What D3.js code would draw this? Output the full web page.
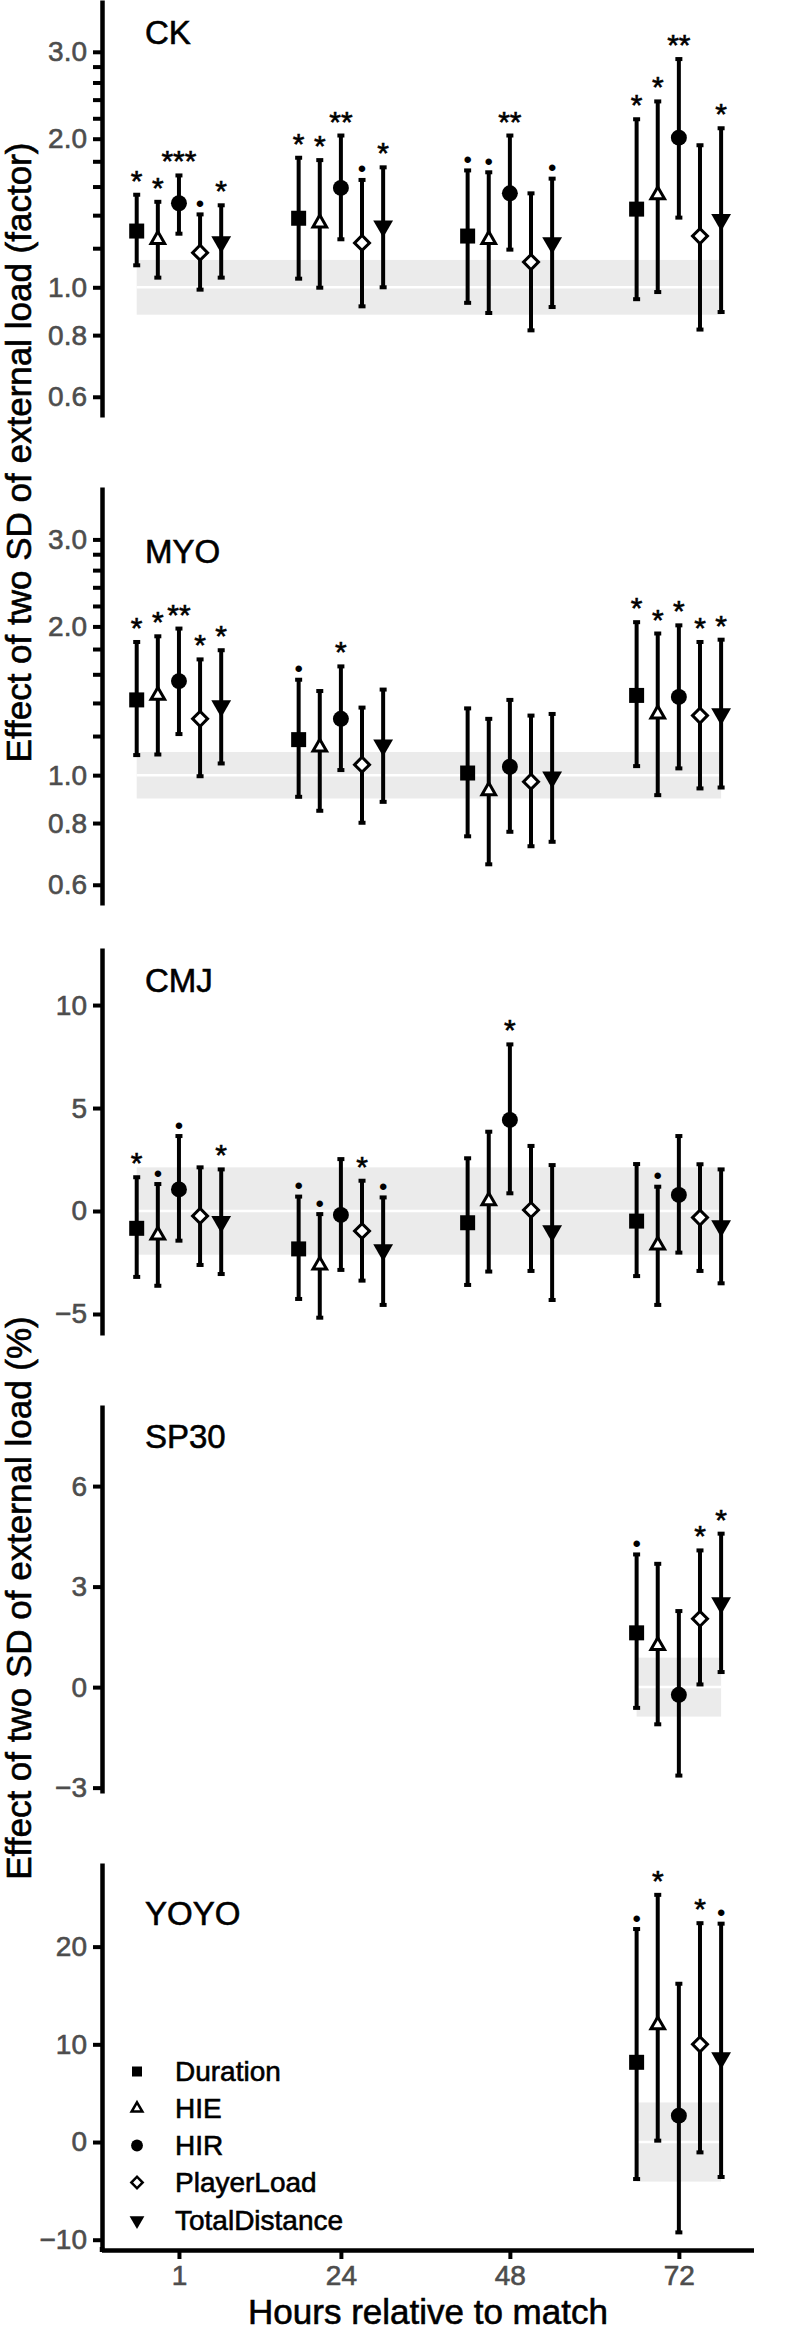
<!DOCTYPE html>
<html>
<head>
<meta charset="utf-8">
<script src="https://cdn.jsdelivr.net/npm/d3@7"></script>
<style>
  body { margin: 0; background: #ffffff; }
  text { font-family: "Liberation Sans", Arial, Helvetica, sans-serif; }
</style>
</head>
<body>
<svg id="chart" width="806" height="2336"></svg>
<script>
// ---------------- DATA ----------------
const hours = [1, 24, 48, 72];
const series = ["Duration", "HIE", "HIR", "PlayerLoad", "TotalDistance"];
const panelNames = ["CK", "MYO", "CMJ", "SP30", "YOYO"];

// Tick values / labels
const factorTicks = [0.6, 0.8, 1.0, 1.2, 1.4, 1.6, 1.8, 2.0, 2.2, 2.4, 2.6, 2.8, 3.0];
const factorLabels = [0.6, 0.8, 1.0, 2.0, 3.0];
const cmjTicks = [-5, 0, 5, 10];
const sp30Ticks = [-3, 0, 3, 6];
const yoyoTicks = [-10, 0, 10, 20];

// CK (factor) : rows = series, columns = hours
const ckEst = [[1.30, 1.38, 1.27, 1.44], [1.25, 1.35, 1.25, 1.54], [1.48, 1.59, 1.55, 2.01], [1.175, 1.23, 1.125, 1.27], [1.235, 1.33, 1.23, 1.37]];
const ckUp  = [[1.54, 1.83, 1.725, 2.19], [1.49, 1.81, 1.71, 2.38], [1.685, 2.03, 2.03, 2.90], [1.405, 1.65, 1.55, 1.94], [1.466, 1.75, 1.66, 2.10]];
const ckLo  = [[1.108, 1.041, 0.930, 0.946], [1.046, 0.998, 0.887, 0.978], [1.284, 1.251, 1.192, 1.384], [0.989, 0.915, 0.818, 0.821], [1.046, 1.0, 0.912, 0.891]];
const ckSig = [["*", "*", "•", "*"], ["*", "*", "•", "*"], ["***", "**", "**", "**"], ["•", "•", "", ""], ["*", "*", "•", "*"]];
const ckBand = [0.880, 1.136];

// MYO (factor)
const myoEst = [[1.42, 1.18, 1.01, 1.45], [1.45, 1.14, 0.93, 1.33], [1.55, 1.30, 1.04, 1.44], [1.30, 1.05, 0.97, 1.32], [1.38, 1.15, 0.99, 1.33]];
const myoUp  = [[1.86, 1.56, 1.365, 2.04], [1.91, 1.48, 1.30, 1.935], [1.98, 1.66, 1.42, 2.01], [1.715, 1.37, 1.32, 1.86], [1.79, 1.49, 1.33, 1.88]];
const myoLo  = [[1.098, 0.904, 0.752, 1.043], [1.101, 0.847, 0.66, 0.911], [1.211, 1.024, 0.768, 1.032], [0.995, 0.801, 0.718, 0.94], [1.056, 0.883, 0.733, 0.944]];
const myoSig = [["*", "•", "", "*"], ["*", "", "", "*"], ["**", "*", "", "*"], ["*", "", "", "*"], ["*", "", "", "*"]];
const myoBand = [0.897, 1.114];

// CMJ (%)
const cmjEst = [[-0.84, -1.84, -0.57, -0.49], [-1.17, -2.62, 0.49, -1.65], [1.05, -0.19, 4.42, 0.78], [-0.24, -0.97, 0.05, -0.32], [-0.52, -1.89, -0.97, -0.73]];
const cmjUp  = [[1.64, 0.70, 2.56, 2.28], [1.31, -0.15, 3.85, 1.18], [3.64, 2.52, 8.09, 3.64], [2.12, 1.47, 3.16, 2.27], [2.02, 0.66, 2.23, 2.02]];
const cmjLo  = [[-3.2, -4.27, -3.59, -3.16], [-3.63, -5.18, -2.94, -4.56], [-1.44, -2.86, 0.86, -2.02], [-2.62, -3.38, -2.91, -2.91], [-3.06, -4.56, -4.32, -3.51]];
const cmjSig = [["*", "•", "", ""], ["•", "•", "", "•"], ["•", "", "*", ""], ["", "*", "", ""], ["*", "•", "", ""]];
const cmjBand = [-2.12, 2.12];

// SP30 (%) – only 72 h
const sp30Est = [[null, null, null, 1.62], [null, null, null, 1.24], [null, null, null, -0.23], [null, null, null, 2.04], [null, null, null, 2.51]];
const sp30Up  = [[null, null, null, 3.96], [null, null, null, 3.68], [null, null, null, 2.27], [null, null, null, 4.08], [null, null, null, 4.58]];
const sp30Lo  = [[null, null, null, -0.62], [null, null, null, -1.11], [null, null, null, -2.64], [null, null, null, 0.08], [null, null, null, 0.45]];
const sp30Sig = [["", "", "", "•"], ["", "", "", ""], ["", "", "", ""], ["", "", "", "*"], ["", "", "", "*"]];
const sp30Band = [-0.88, 0.88];

// YOYO (%) – only 72 h
const yoyoEst = [[null, null, null, 8.16], [null, null, null, 12.0], [null, null, null, 2.7], [null, null, null, 10.0], [null, null, null, 8.6]];
const yoyoUp  = [[null, null, null, 21.8], [null, null, null, 25.3], [null, null, null, 16.2], [null, null, null, 22.4], [null, null, null, 22.35]];
const yoyoLo  = [[null, null, null, -3.79], [null, null, null, 0.14], [null, null, null, -9.25], [null, null, null, -1.06], [null, null, null, -3.58]];
const yoyoSig = [["", "", "", "•"], ["", "", "", "*"], ["", "", "", ""], ["", "", "", "*"], ["", "", "", "•"]];
const yoyoBand = [-4.05, 4.05];

// dodge offsets (hours) for the five series
const dodge = [-6, -3, 0, 3, 6];

// y-axis domains (value at bottom, value at top of each panel)
const yDomains = [[0.546, 3.82], [0.546, 3.83], [-6.02, 12.77], [-3.16, 8.42], [-10.95, 28.56]];

// ---------------- LAYOUT / STYLE ----------------
const layout = {
  top:    [0, 487, 948, 1405, 1863],
  bottom: [417, 905, 1335, 1793, 2249],
  label:  [44, 563, 992, 1448, 1925]
};
const axisX = 102;
const xAxisY = 2250;

const panels = [
  { name: panelNames[0], log: true,  ticks: factorTicks, labels: factorLabels, est: ckEst, up: ckUp, lo: ckLo, sig: ckSig, band: ckBand, ref: 1 },
  { name: panelNames[1], log: true,  ticks: factorTicks, labels: factorLabels, est: myoEst, up: myoUp, lo: myoLo, sig: myoSig, band: myoBand, ref: 1 },
  { name: panelNames[2], log: false, ticks: cmjTicks, labels: cmjTicks, est: cmjEst, up: cmjUp, lo: cmjLo, sig: cmjSig, band: cmjBand, ref: 0 },
  { name: panelNames[3], log: false, ticks: sp30Ticks, labels: sp30Ticks, est: sp30Est, up: sp30Up, lo: sp30Lo, sig: sp30Sig, band: sp30Band, ref: 0 },
  { name: panelNames[4], log: false, ticks: yoyoTicks, labels: yoyoTicks, est: yoyoEst, up: yoyoUp, lo: yoyoLo, sig: yoyoSig, band: yoyoBand, ref: 0 }
];

const svg = d3.select("#chart");
const x = d3.scaleLinear().domain([-10, 82.6]).range([101.5, 753.5]);

// marker definitions
const markerDefs = [
  { type: d3.symbolSquare,   size: 225, fill: "#000", stroke: "none", sw: 0, rot: 0 },
  { type: d3.symbolTriangle, size: 80,  fill: "#fff", stroke: "#000", sw: 3, rot: 0 },
  { type: d3.symbolCircle,   size: 200, fill: "#000", stroke: "none", sw: 0, rot: 0 },
  { type: d3.symbolSquare,   size: 112, fill: "#fff", stroke: "#000", sw: 3, rot: 45 },
  { type: d3.symbolTriangle, size: 170, fill: "#000", stroke: "none", sw: 0, rot: 180 }
];
const legendDefs = [
  { type: d3.symbolSquare,   size: 100, fill: "#000", stroke: "none", sw: 0, rot: 0 },
  { type: d3.symbolTriangle, size: 50,  fill: "#fff", stroke: "#000", sw: 2.5, rot: 0 },
  { type: d3.symbolCircle,   size: 110, fill: "#000", stroke: "none", sw: 0, rot: 0 },
  { type: d3.symbolSquare,   size: 64,  fill: "#fff", stroke: "#000", sw: 2.5, rot: 45 },
  { type: d3.symbolTriangle, size: 95,  fill: "#000", stroke: "none", sw: 0, rot: 180 }
];

const fmtLog = d3.format(".1f");
const fmtLin = d => (d < 0 ? "\u2212" + Math.abs(d) : String(d));

// slight stroke to mimic the heavier text rendering of the reference
function heavy(sel, color) {
  return sel.attr("stroke", color).attr("stroke-width", 0.6).attr("paint-order", "stroke");
}

panels.forEach((p, i) => {
  const y = (p.log ? d3.scaleLog() : d3.scaleLinear())
    .domain(yDomains[i])
    .range([layout.bottom[i], layout.top[i]]);
  const g = svg.append("g").attr("class", "panel-" + p.name);

  // reference band: spans dodged positions of hours with data
  const present = hours.filter((h, j) => p.est.some(s => s[j] != null));
  const bx0 = x(d3.min(present) + dodge[0]);
  const bx1 = x(d3.max(present) + dodge[dodge.length - 1]);
  g.append("rect")
    .attr("x", bx0).attr("width", bx1 - bx0)
    .attr("y", y(p.band[1])).attr("height", y(p.band[0]) - y(p.band[1]))
    .attr("fill", "#ebebeb");
  g.append("line")
    .attr("x1", bx0).attr("x2", bx1)
    .attr("y1", y(p.ref)).attr("y2", y(p.ref))
    .attr("stroke", "#fff").attr("stroke-width", 2.5);

  // y axis
  const labelSet = new Set(p.labels.map(v => +v.toFixed(2)));
  const axis = d3.axisLeft(y)
    .tickValues(p.ticks)
    .tickSizeInner(9).tickSizeOuter(0).tickPadding(6)
    .tickFormat(d => labelSet.has(+d.toFixed(2)) ? (p.log ? fmtLog(d) : fmtLin(d)) : "");
  const ag = g.append("g").attr("transform", `translate(${axisX},0)`).call(axis);
  ag.attr("font-family", null).attr("font-size", null);
  ag.select(".domain").attr("stroke", "#000").attr("stroke-width", 4.5);
  ag.selectAll(".tick line").attr("stroke", "#000").attr("stroke-width", 4);
  heavy(ag.selectAll(".tick text").attr("fill", "#4d4d4d").style("font-size", "28px"), "#4d4d4d");
  if (i === panels.length - 1) {
    // extend y axis down to meet the x axis
    g.append("line").attr("x1", axisX).attr("x2", axisX)
      .attr("y1", layout.bottom[i] - 2).attr("y2", xAxisY + 2)
      .attr("stroke", "#000").attr("stroke-width", 4.5);
  }

  // panel label
  heavy(g.append("text").attr("x", 145).attr("y", layout.label[i])
    .style("font-size", "33px").attr("fill", "#000").text(p.name), "#000");

  // collect points
  const pts = [];
  series.forEach((s, si) => {
    hours.forEach((h, hj) => {
      const e = p.est[si][hj];
      if (e == null) return;
      pts.push({ si, cx: x(h + dodge[si]), e, u: p.up[si][hj], l: p.lo[si][hj], sig: p.sig[si][hj] });
    });
  });

  // error bars
  const eb = g.append("g");
  pts.forEach(d => {
    eb.append("line").attr("x1", d.cx).attr("x2", d.cx)
      .attr("y1", y(d.u)).attr("y2", y(d.l))
      .attr("stroke", "#000").attr("stroke-width", 4);
    [d.u, d.l].forEach(v => {
      eb.append("rect").attr("x", d.cx - 3.5).attr("width", 7)
        .attr("y", y(v) - 2).attr("height", 4).attr("fill", "#000");
    });
  });

  // markers
  const mk = g.append("g");
  pts.forEach(d => {
    const m = markerDefs[d.si];
    mk.append("path")
      .attr("d", d3.symbol().type(m.type).size(m.size)())
      .attr("transform", `translate(${d.cx},${y(d.e)}) rotate(${m.rot})`)
      .attr("fill", m.fill).attr("stroke", m.stroke).attr("stroke-width", m.sw)
      .attr("stroke-linejoin", "miter");
  });

  // significance labels
  const sg = g.append("g");
  pts.forEach(d => {
    if (!d.sig) return;
    if (d.sig === "•") {
      sg.append("text").attr("x", d.cx).attr("y", y(d.u) - 2.5)
        .attr("text-anchor", "middle").style("font-size", "24px").attr("fill", "#000").text(d.sig);
    } else {
      heavy(sg.append("text").attr("x", d.cx).attr("y", y(d.u) - 4)
        .attr("text-anchor", "middle").style("font-size", "30px").attr("fill", "#000").text(d.sig), "#000");
    }
  });
});

// x axis
const xa = svg.append("g").attr("transform", `translate(0,${xAxisY})`)
  .call(d3.axisBottom(x).tickValues(hours).tickSizeInner(9).tickSizeOuter(0).tickPadding(6));
xa.attr("font-family", null).attr("font-size", null);
xa.select(".domain").attr("stroke", "#000").attr("stroke-width", 4.5);
xa.selectAll(".tick line").attr("stroke", "#000").attr("stroke-width", 4);
heavy(xa.selectAll(".tick text").attr("fill", "#4d4d4d").style("font-size", "28px"), "#4d4d4d");

// x axis title
heavy(svg.append("text").attr("x", 428).attr("y", 2324).attr("text-anchor", "middle")
  .style("font-size", "35px").attr("fill", "#000").text("Hours relative to match"), "#000");

// y axis titles
heavy(svg.append("text").attr("transform", "translate(31,452.5) rotate(-90)")
  .attr("text-anchor", "middle").style("font-size", "35px").attr("fill", "#000")
  .text("Effect of two SD of external load (factor)"), "#000");
heavy(svg.append("text").attr("transform", "translate(31,1598) rotate(-90)")
  .attr("text-anchor", "middle").style("font-size", "35px").attr("fill", "#000")
  .text("Effect of two SD of external load (%)"), "#000");

// legend
const legendBase = [2081, 2118, 2155, 2192, 2230];
const lg = svg.append("g");
series.forEach((s, si) => {
  const m = legendDefs[si];
  lg.append("path")
    .attr("d", d3.symbol().type(m.type).size(m.size)())
    .attr("transform", `translate(137,${legendBase[si] - 9.5}) rotate(${m.rot})`)
    .attr("fill", m.fill).attr("stroke", m.stroke).attr("stroke-width", m.sw);
  heavy(lg.append("text").attr("x", 175).attr("y", legendBase[si])
    .style("font-size", "28px").attr("fill", "#000").text(s), "#000");
});
</script>
</body>
</html>
